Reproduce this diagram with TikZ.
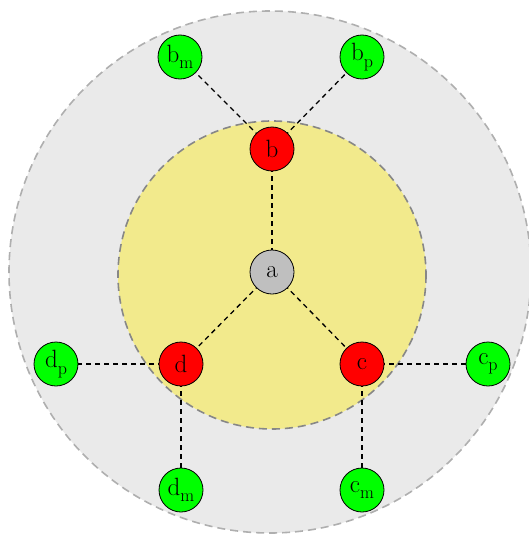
\documentclass[tikz,border=0pt]{standalone}
\pgfdeclarelayer{bg}
\pgfdeclarelayer{edges}
\pgfsetlayers{bg,edges,main}
\definecolor{bigfill}{RGB}{234,234,234}
\definecolor{yelfill}{RGB}{242,234,140}
\definecolor{bigline}{RGB}{175,175,175}
\definecolor{yelline}{RGB}{135,135,135}
\newcommand{\lbl}[2]{#1\raisebox{-0.25em}{\fontsize{18}{20}\selectfont #2}}
\tikzset{
  vtx/.style={circle,draw=black,line width=0.8pt,minimum size=44pt,inner sep=0pt,
    font=\fontsize{25}{28}\selectfont},
  redv/.style={vtx,fill=red},
  grnv/.style={vtx,fill=green},
  grayv/.style={vtx,fill=black!25},
  link/.style={draw=black,line width=1.3pt,dash pattern=on 5pt off 4pt},
}
\begin{document}
\begin{tikzpicture}[x=1pt,y=-1pt]
\useasboundingbox (0,0) rectangle (529,535);
\begin{pgfonlayer}{bg}
  \draw[fill=bigfill,draw=bigline,line width=1.6pt,dash pattern=on 8pt off 5pt] (270,272) circle (261);
  \draw[fill=yelfill,draw=yelline,line width=1.6pt,dash pattern=on 8pt off 5pt] (272,275) circle (154);
\end{pgfonlayer}
\node[grayv] (a) at (272,272) {a};
\node[redv] (b) at (272,149) {b};
\node[redv] (c) at (362,364) {c};
\node[redv] (d) at (181,364) {d};
\node[grnv] (bm) at (180,57) {\lbl{b}{m}};
\node[grnv] (bp) at (362,57) {\lbl{b}{p}};
\node[grnv] (dp) at (56,364) {\lbl{d}{p}};
\node[grnv] (dm) at (181,490) {\lbl{d}{m}};
\node[grnv] (cp) at (488,364) {\lbl{c}{p}};
\node[grnv] (cm) at (362,490) {\lbl{c}{m}};
\begin{pgfonlayer}{edges}
  \draw[link] (b.center) -- (bm.center);
  \draw[link] (b.center) -- (bp.center);
  \draw[link] (b.center) -- (a.center);
  \draw[link] (a.center) -- (c.center);
  \draw[link] (a.center) -- (d.center);
  \draw[link] (c.center) -- (cp.center);
  \draw[link] (c.center) -- (cm.center);
  \draw[link] (d.center) -- (dp.center);
  \draw[link] (d.center) -- (dm.center);
\end{pgfonlayer}
\end{tikzpicture}
\end{document}
